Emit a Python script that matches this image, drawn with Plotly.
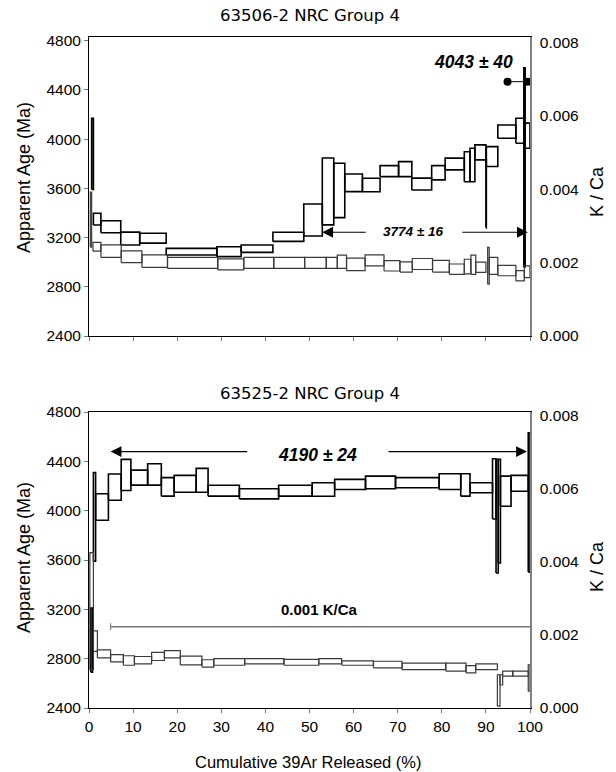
import plotly.graph_objects as go

# ---------------- Top panel: 63506-2 ----------------
top_age_x0 = [0.6, 1.0, 2.7, 7.2, 11.5, 17.5, 29.0, 34.5, 41.7, 48.7, 52.9, 55.5, 58.0, 62.0,
              66.0, 70.2, 73.2, 77.7, 80.75, 85.1, 86.4, 87.5, 90.0, 90.1, 92.7, 96.8, 98.6, 98.9]
top_age_x1 = [1.0, 2.7, 7.2, 11.5, 17.5, 29.0, 34.5, 41.7, 48.7, 52.9, 55.5, 58.0, 62.0, 66.0,
              70.2, 73.2, 77.7, 80.75, 85.1, 86.4, 87.5, 90.0, 90.1, 92.7, 96.8, 98.6, 98.9, 100.0]
top_age = [3880, 3350, 3288, 3192, 3195, 3085, 3085, 3110, 3206, 3343, 3575, 3583, 3645, 3627,
           3740, 3756, 3635, 3727, 3798, 3775, 3790, 3892, 3555, 3858, 4061, 4068, 3770, 4028]
top_age_err = [290, 48, 49, 52, 40, 27, 40, 30, 37, 130, 272, 221, 72, 55,
               45, 61, 48, 58, 48, 122, 136, 61, 276, 81, 54, 102, 809, 102]

top_kca_x0 = [0.3, 0.9, 2.7, 7.3, 12.0, 17.8, 29.2, 35.1, 41.9, 48.9, 53.8, 56.3, 58.4, 62.6,
              66.9, 70.5, 73.3, 77.9, 81.7, 85.1, 86.6, 87.7, 90.4, 90.75, 92.7, 96.8, 98.7]
top_kca_x1 = [0.6, 2.7, 7.3, 12.0, 17.8, 29.2, 35.1, 41.9, 48.9, 53.8, 56.3, 58.4, 62.6, 66.9,
              70.5, 73.3, 77.9, 81.7, 85.1, 86.6, 87.7, 90.0, 90.75, 92.7, 96.8, 98.7, 100.0]
top_kca = [0.00317, 0.00243, 0.00231, 0.00216, 0.00204, 0.00199, 0.00195, 0.00199, 0.00199,
           0.00199, 0.00199, 0.00202, 0.00195, 0.00206, 0.00191, 0.00188, 0.00196, 0.00190,
           0.00182, 0.00189, 0.00194, 0.00187, 0.00191, 0.00191, 0.00178, 0.00164, 0.00175]
top_kca_err = [0.00075, 0.00012, 0.00017, 0.00016, 0.00017, 0.00015, 0.00015, 0.00015, 0.00015,
               0.00015, 0.00015, 0.00018, 0.00017, 0.00015, 0.00014, 0.00014, 0.00015, 0.00016,
               0.00014, 0.00020, 0.00026, 0.00014, 0.00050, 0.00023, 0.00014, 0.00014, 0.00016]

# ---------------- Bottom panel: 63525-2 ----------------
bot_age_x0 = [0.4, 1.0, 1.5, 4.4, 7.3, 9.5, 13.3, 16.4, 19.3, 24.3, 27.0, 34.1, 43.0, 50.6,
              55.7, 62.7, 69.5, 79.4, 84.3, 86.4, 91.5, 92.3, 92.8, 93.3, 95.7, 99.6]
bot_age_x1 = [0.8, 1.5, 4.4, 7.3, 9.5, 13.3, 16.4, 19.3, 24.3, 27.0, 34.1, 43.0, 50.6, 55.7,
              62.7, 69.5, 79.4, 84.3, 86.4, 91.5, 92.3, 92.8, 93.3, 95.7, 99.6, 100.0]
bot_age = [2950, 3950, 4030, 4191, 4290, 4268, 4294, 4193, 4218, 4246, 4162, 4137, 4162, 4172,
           4213, 4229, 4227, 4236, 4209, 4186, 4177, 3955, 3996, 4158, 4222, 4067]
bot_age_err = [260, 360, 107, 107, 126, 61, 87, 75, 68, 97, 44, 41, 44, 55,
               41, 51, 41, 64, 91, 41, 244, 460, 420, 122, 64, 565]

bot_kca_x0 = [0.2, 1.0, 1.9, 4.9, 7.8, 10.3, 14.2, 17.1, 20.7, 25.6, 28.3, 35.3, 44.2, 52.1,
              57.3, 64.5, 71.0, 80.9, 85.5, 87.7, 92.6, 93.2, 93.8, 96.1, 99.6]
bot_kca_x1 = [1.0, 1.9, 4.9, 7.8, 10.3, 14.2, 17.1, 20.7, 25.6, 28.3, 35.3, 44.2, 52.1, 57.3,
              64.5, 71.0, 80.9, 85.5, 87.7, 92.6, 93.2, 93.8, 96.1, 99.6, 100.0]
bot_kca = [0.00265, 0.00183, 0.00148, 0.00136, 0.00130, 0.00131, 0.00141, 0.00147, 0.00130,
           0.00122, 0.00126, 0.00128, 0.00125, 0.00128, 0.00123, 0.00119, 0.00114, 0.00112,
           0.00106, 0.00113, 0.00048, 0.00077, 0.00094, 0.00094, 0.00082]
bot_kca_err = [0.00160, 0.00028, 0.00011, 0.00010, 0.00013, 0.00010, 0.00011, 0.00010, 0.00012,
               0.00010, 0.00009, 0.00007, 0.00008, 0.00007, 0.00006, 0.00009, 0.00009, 0.00011,
               0.00010, 0.00008, 0.00043, 0.00014, 0.00007, 0.00007, 0.00036]

x_ticks = [0, 10, 20, 30, 40, 50, 60, 70, 80, 90, 100]
age_ticks = [2400, 2800, 3200, 3600, 4000, 4400, 4800]
kca_ticks = [0.000, 0.002, 0.004, 0.006, 0.008]

titles = ["63506-2 NRC Group 4", "63525-2 NRC Group 4"]
top_plateau = "3774 ± 16"
top_total = "4043 ± 40"
bot_plateau = "4190 ± 24"
bot_kca_label = "0.001 K/Ca"


def boxes(x0s, x1s, vals, errs):
    xs, ys = [], []
    for a, b, v, e in zip(x0s, x1s, vals, errs):
        xs += [a, b, b, a, a, None]
        ys += [v - e, v - e, v + e, v + e, v - e, None]
    return xs, ys


fig = go.Figure()

# top panel
x, y = boxes(top_kca_x0, top_kca_x1, top_kca, top_kca_err)
fig.add_trace(go.Scatter(x=x, y=y, mode="lines", line=dict(color="#3a3a3a", width=1.2),
                         xaxis="x2", yaxis="y4", showlegend=False))
x, y = boxes(top_age_x0, top_age_x1, top_age, top_age_err)
fig.add_trace(go.Scatter(x=x, y=y, mode="lines", line=dict(color="#000000", width=1.6),
                         xaxis="x2", yaxis="y3", showlegend=False))
# bottom panel
x, y = boxes(bot_kca_x0, bot_kca_x1, bot_kca, bot_kca_err)
fig.add_trace(go.Scatter(x=x, y=y, mode="lines", line=dict(color="#3a3a3a", width=1.2),
                         xaxis="x", yaxis="y2", showlegend=False))
x, y = boxes(bot_age_x0, bot_age_x1, bot_age, bot_age_err)
fig.add_trace(go.Scatter(x=x, y=y, mode="lines", line=dict(color="#000000", width=1.6),
                         xaxis="x", yaxis="y", showlegend=False))

# 4043 ± 40 marker (dots joined by a line)
fig.add_trace(go.Scatter(x=[94.9, 99.5], y=[4467, 4467], mode="lines+markers",
                         line=dict(color="#000000", width=1), marker=dict(size=8, color="#000000"),
                         xaxis="x2", yaxis="y3", showlegend=False))

tickfont = dict(family="Liberation Sans, Arial", size=15.5, color="#000000")
common_x = dict(range=[0, 100], tickvals=x_ticks, ticks="outside", ticklen=4, tickcolor="#777777",
                showline=True, linecolor="#000000", linewidth=1, mirror=True, showgrid=False,
                zeroline=False, tickfont=tickfont)
left_y = dict(tickvals=age_ticks, ticks="outside", ticklen=4, tickcolor="#777777", showline=True,
              linecolor="#000000", linewidth=1, showgrid=False, zeroline=False, tickfont=tickfont)
right_y = dict(tickvals=kca_ticks, tickformat=".3f", ticks="outside", ticklen=5,
               tickcolor="rgba(0,0,0,0)", showline=True, linecolor="#808080", linewidth=1.5,
               showgrid=False, zeroline=False, tickfont=tickfont, side="right")

fig.update_layout(
    width=616, height=772,
    margin=dict(l=89, r=86, t=37, b=64),
    paper_bgcolor="white", plot_bgcolor="white",
    xaxis=dict(**common_x, anchor="y", domain=[0, 1]),
    xaxis2=dict(**common_x, anchor="y3", domain=[0, 1], showticklabels=False),
    yaxis=dict(**left_y, range=[2400, 4800], domain=[0, 0.4411], anchor="x"),
    yaxis2=dict(**right_y, range=[0, 0.0081], overlaying="y", anchor="x"),
    yaxis3=dict(**left_y, range=[2400, 4830], domain=[0.5544, 1], anchor="x2"),
    yaxis4=dict(**right_y, range=[0, 0.00814], overlaying="y3", anchor="x2"),
)

ann = []
title_font = dict(family="DejaVu Sans", size=16.5, color="#000000")
ann.append(dict(text=titles[0], xref="paper", yref="paper", x=0.501, y=1.0313,
                showarrow=False, font=title_font, xanchor="center", yanchor="middle"))
ann.append(dict(text=titles[1], xref="paper", yref="paper", x=0.501, y=0.4694,
                showarrow=False, font=title_font, xanchor="center", yanchor="middle"))
axis_title_font = dict(family="Liberation Sans, Arial", size=18, color="#000000")
for yy in [(708 - 178) / 671, (708 - 558) / 671]:
    ann.append(dict(text="Apparent Age (Ma)", xref="paper", yref="paper", x=(24 - 89) / 441, y=yy,
                    textangle=-90, showarrow=False, font=axis_title_font,
                    xanchor="center", yanchor="middle"))
for yy in [(708 - 192) / 671, (708 - 567) / 671]:
    ann.append(dict(text="K / Ca", xref="paper", yref="paper", x=(597 - 89) / 441, y=yy,
                    textangle=-90, showarrow=False, font=axis_title_font,
                    xanchor="center", yanchor="middle"))
ann.append(dict(text="Cumulative 39Ar Released (%)", xref="paper", yref="paper",
                x=(308 - 89) / 441, y=-(762 - 708) / 671, showarrow=False,
                font=dict(family="Liberation Sans, Arial", size=16.5, color="#000000"),
                xanchor="center", yanchor="middle"))

# top panel arrows and labels
arrow_common = dict(text="", showarrow=True, arrowhead=2, arrowsize=1.8, arrowwidth=1.2,
                    arrowcolor="#000000")
ann.append(dict(**arrow_common, xref="x2", yref="y3", axref="x2", ayref="y3",
                x=52.9, y=3243, ax=63.1, ay=3243))
ann.append(dict(**arrow_common, xref="x2", yref="y3", axref="x2", ayref="y3",
                x=99.5, y=3243, ax=84.3, ay=3243))
ann.append(dict(text="<b><i>" + top_plateau + "</i></b>", xref="x2", yref="y3", x=73.4, y=3250,
                showarrow=False, font=dict(family="Liberation Sans, Arial", size=13.5, color="#000000")))
ann.append(dict(text="<b><i>" + top_total + "</i></b>", xref="x2", yref="y3", x=87.3, y=4628,
                showarrow=False, font=dict(family="Liberation Sans, Arial", size=17.5, color="#000000")))

# bottom panel arrows and labels
ann.append(dict(**arrow_common, xref="x", yref="y", axref="x", ayref="y",
                x=4.9, y=4479, ax=36.2, ay=4479))
ann.append(dict(**arrow_common, xref="x", yref="y", axref="x", ayref="y",
                x=99.3, y=4479, ax=67.6, ay=4479))
ann.append(dict(text="<b><i>" + bot_plateau + "</i></b>", xref="x", yref="y", x=51.7, y=4452,
                showarrow=False, font=dict(family="Liberation Sans, Arial", size=17.5, color="#000000")))
ann.append(dict(text="<b>" + bot_kca_label + "</b>", xref="x", yref="y", x=52.2, y=3195,
                showarrow=False, font=dict(family="Liberation Sans, Arial", size=15, color="#000000")))

fig.update_layout(annotations=ann)

fig.add_shape(type="line", xref="x", yref="y", x0=4.9, x1=100, y0=3059, y1=3059,
              line=dict(color="#777777", width=1.5))
fig.add_shape(type="line", xref="x", yref="y", x0=4.9, x1=4.9, y0=3030, y1=3088,
              line=dict(color="#777777", width=1))

fig.write_html("out.html")
